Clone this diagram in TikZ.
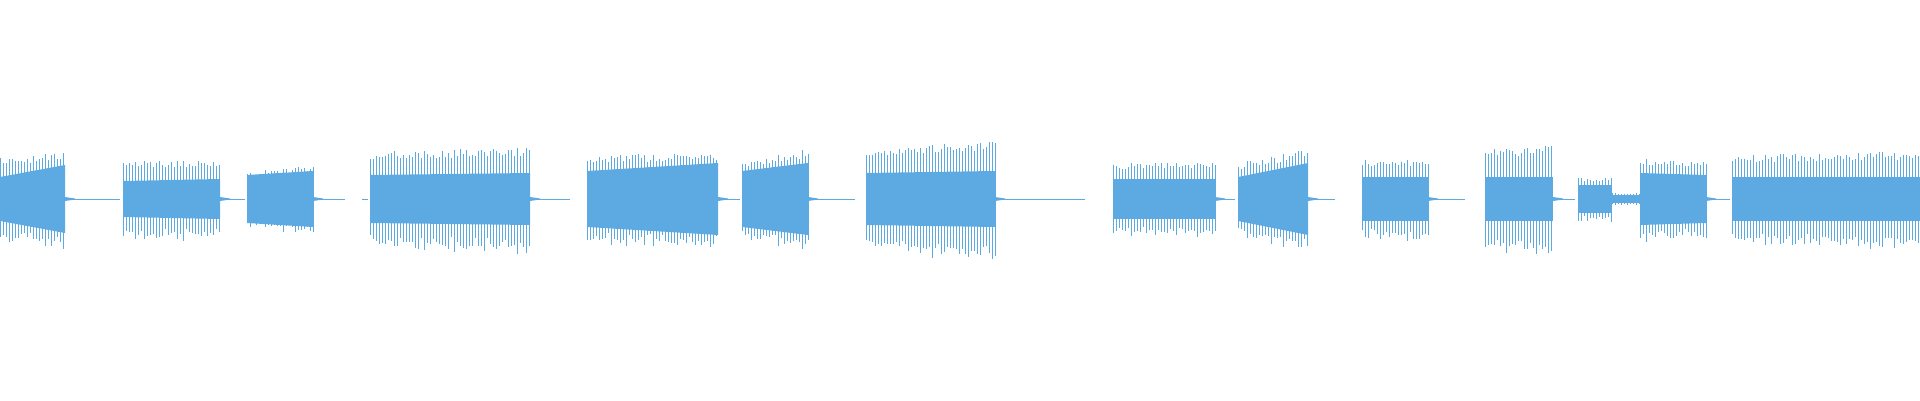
\documentclass[tikz,border=0pt]{standalone}
\definecolor{wv}{RGB}{93,170,226}
\tikzset{wave/.style={fill=wv},spk/.style={draw=wv,line width=0.7pt},base/.style={draw=wv,line width=0.5pt}}
\newcommand\wseg[6]{%
 \fill[wave] (#1,{201+#3}) -- (#2,{201+#4}) -- (#2,{201-#4}) -- (#1,{201-#3}) -- cycle;
 \pgfmathtruncatemacro\wn{(#2-#1)/3}%
 \foreach \i in {0,...,\wn}{%
  \pgfmathsetmacro\wx{#1+3*\i}%
  \pgfmathsetmacro\wt{(\wx-#1)/(#2-#1)}%
  \pgfmathsetmacro\wh{(#5+(#6-#5)*\wt)*(0.82+0.18*rnd)}%
  \pgfmathsetmacro\wl{\wh*(0.9+0.2*rnd)}%
  \draw[spk] (\wx,{201+\wh}) -- (\wx,{201-\wl});}}
\newcommand\wtail[2]{%
 \fill[wave] (#1,203) -- ({#1+10},201.5) -- ({#1+10},200.5) -- (#1,199) -- cycle;
 \draw[base] (#1,201) -- (#2,201);}
\begin{document}
\begin{tikzpicture}[x=1pt,y=1pt]
\useasboundingbox (0,0) rectangle (1920,400);
\pgfmathsetseed{7}
\wseg{0}{65}{22}{34}{42}{46}\wtail{65}{120}
\wseg{123}{220}{18}{20}{38}{40}\wtail{220}{245}
\wseg{247}{313}{24}{28}{28}{34}\wtail{313}{345}
\draw[base] (362,201)--(368,201);
\wseg{370}{530}{24}{26}{48}{52}\wtail{530}{570}
\wseg{587}{718}{28}{36}{44}{46}\wtail{718}{740}
\wseg{742}{808}{28}{36}{38}{50}\wtail{808}{855}
\wseg{866}{995}{26}{28}{52}{58}\wtail{995}{1085}
\wseg{1113}{1215}{20}{20}{36}{38}\wtail{1215}{1235}
\wseg{1238}{1308}{22}{36}{36}{50}\wtail{1308}{1335}
\wseg{1362}{1428}{22}{22}{40}{40}\wtail{1428}{1465}
\wseg{1485}{1553}{22}{22}{50}{54}\wtail{1553}{1575}
\wseg{1578}{1612}{14}{14}{22}{22}
\wseg{1612}{1640}{4}{4}{6}{6}
\wseg{1640}{1706}{26}{24}{40}{38}\wtail{1706}{1730}
\wseg{1732}{1920}{22}{22}{44}{48}
\end{tikzpicture}
\end{document}
